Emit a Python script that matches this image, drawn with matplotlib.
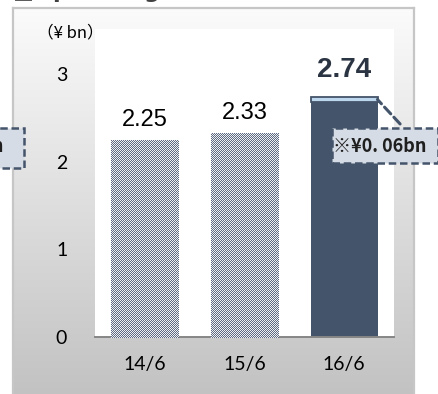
import numpy as np
import matplotlib
matplotlib.use("Agg")
import matplotlib.pyplot as plt
from matplotlib.patches import Rectangle

# ---- data ----
periods = ["14/6", "15/6", "16/6"]
income = [2.25, 2.33, 2.74]
extra_part = 0.06          # highlighted slice at the top of the latest bar
yticks = [0, 1, 2, 3]
unit_label = "（¥ bn）"
note_label = "※¥0. 06bn"
title = "■Operating Income"

W, H = 439, 394
DPI = 100
fig = plt.figure(figsize=(W / DPI, H / DPI), dpi=DPI)
fig.patch.set_facecolor("white")

def px(x0, y0, x1, y1):
    """figure rect from pixel box (top-left origin)"""
    return [x0 / W, 1 - y1 / H, (x1 - x0) / W, (y1 - y0) / H]

# ---- gradient panel behind the chart ----
panel = fig.add_axes(px(13, 8, 414, 396), zorder=-2)
grad = np.linspace(0, 1, 256)[:, None]
cmap = matplotlib.colors.LinearSegmentedColormap.from_list("g", ["#fbfbfb", "#c2c2c2"])
panel.imshow(grad, aspect="auto", cmap=cmap, extent=[0, 1, 0, 1], origin="upper")
panel.set_xticks([]); panel.set_yticks([])
for side, sp in panel.spines.items():
    sp.set_color("#c6c6c6")
    sp.set_linewidth(1.6)
panel.spines["bottom"].set_visible(False)

# ---- plot area ----
ax = fig.add_axes(px(95, 29, 394, 337), zorder=0)
ax.set_facecolor("white")
x = np.arange(len(periods))
ax.set_xlim(-0.5, len(periods) - 0.5)
ax.set_ylim(0, 3.51)

dark = "#44546A"
light = "#BDD7EE"
bw = 0.67

pattern_bars = ax.bar(x[:2], income[:2], width=bw, color="#9aa2af", zorder=2)
ax.bar(x[2], income[2] - extra_part, width=bw, color=dark, zorder=2)
ax.bar(x[2], extra_part, bottom=income[2] - extra_part, width=bw,
       facecolor=light, edgecolor=dark, linewidth=1.3, zorder=3)

# dotted texture on the earlier bars
yy, xx = np.mgrid[0:H, 0:W]
checker = ((xx + yy) % 2).astype(float)
tex_cmap = matplotlib.colors.ListedColormap(["#5e6b80", "#eef0f3"])
for b in pattern_bars:
    im = fig.figimage(checker, xo=0, yo=0, cmap=tex_cmap, origin="lower", zorder=1)
    im.set_clip_path(b)

# value labels
label_font = dict(family="Liberation Sans")
for xi, v in zip(x[:2], income[:2]):
    ax.annotate(f"{v:.2f}", (xi, v), xytext=(0, 14), textcoords="offset points",
                ha="center", va="center", fontsize=17, color="black", **label_font)
ax.annotate(f"{income[2]:.2f}", (x[2], income[2]), xytext=(0, 19), textcoords="offset points",
            ha="center", va="center", fontsize=20, fontweight="bold", color="#2b3442", **label_font)

# callout for the highlighted slice
bar_right = x[2] + bw / 2
ax.annotate("", xy=(bar_right - 0.02, income[2] - 0.01), xycoords="data",
            xytext=(402 / W, 1 - 126 / H), textcoords="figure fraction",
            arrowprops=dict(arrowstyle="-", color=dark, lw=2.2, linestyle=(0, (3, 1.5))),
            zorder=4, annotation_clip=False)
box_ax_rect = px(332, 128, 438, 163)
fig.patches.append(Rectangle((box_ax_rect[0], box_ax_rect[1]), box_ax_rect[2], box_ax_rect[3],
                             transform=fig.transFigure, facecolor="#d6dce5", edgecolor=dark,
                             linewidth=1.8, linestyle=(0, (3, 1.5)), zorder=5))
note_font = dict(fontsize=13, fontweight="bold", color="#1f1f1f",
                 family=["Noto Sans CJK JP", "DejaVu Sans"], zorder=6)
fig.text(333 / W, 1 - 146 / H, note_label, ha="left", va="center", **note_font)

# second callout partially off the left edge
fig.patches.append(Rectangle((-0.2, 1 - 168 / H), 0.2 + 24 / W, 40 / H,
                             transform=fig.transFigure, facecolor="#d6dce5", edgecolor=dark,
                             linewidth=1.8, linestyle=(0, (3, 1.5)), zorder=5))
fig.text(4 / W, 1 - 146 / H, note_label, ha="right", va="center", **note_font)

# axes styling
for s in ["top", "right", "left"]:
    ax.spines[s].set_visible(False)
ax.spines["bottom"].set_color("#868686")
ax.spines["bottom"].set_linewidth(1.4)
ax.set_xticks(x)
ax.set_xticklabels(periods)
ax.set_yticks(yticks)
ax.set_yticklabels([str(t) for t in yticks])
ax.tick_params(axis="both", length=0, labelsize=14, colors="black")
ax.tick_params(axis="y", pad=20)
ax.tick_params(axis="x", pad=14)
for lab in ax.get_xticklabels() + ax.get_yticklabels():
    lab.set_family("Lato")

fig.text(37 / W, 1 - 33 / H, unit_label, ha="left", va="center", fontsize=12,
         color="black", family=["Noto Sans CJK JP", "DejaVu Sans"])

# heading, mostly above the visible area
fig.text(13 / W, 1 + 1.5 / H, title, ha="left", va="baseline", fontsize=16,
         fontweight="bold", color="#404040", family=["DejaVu Sans"])

fig.savefig("out.png", dpi=DPI)
